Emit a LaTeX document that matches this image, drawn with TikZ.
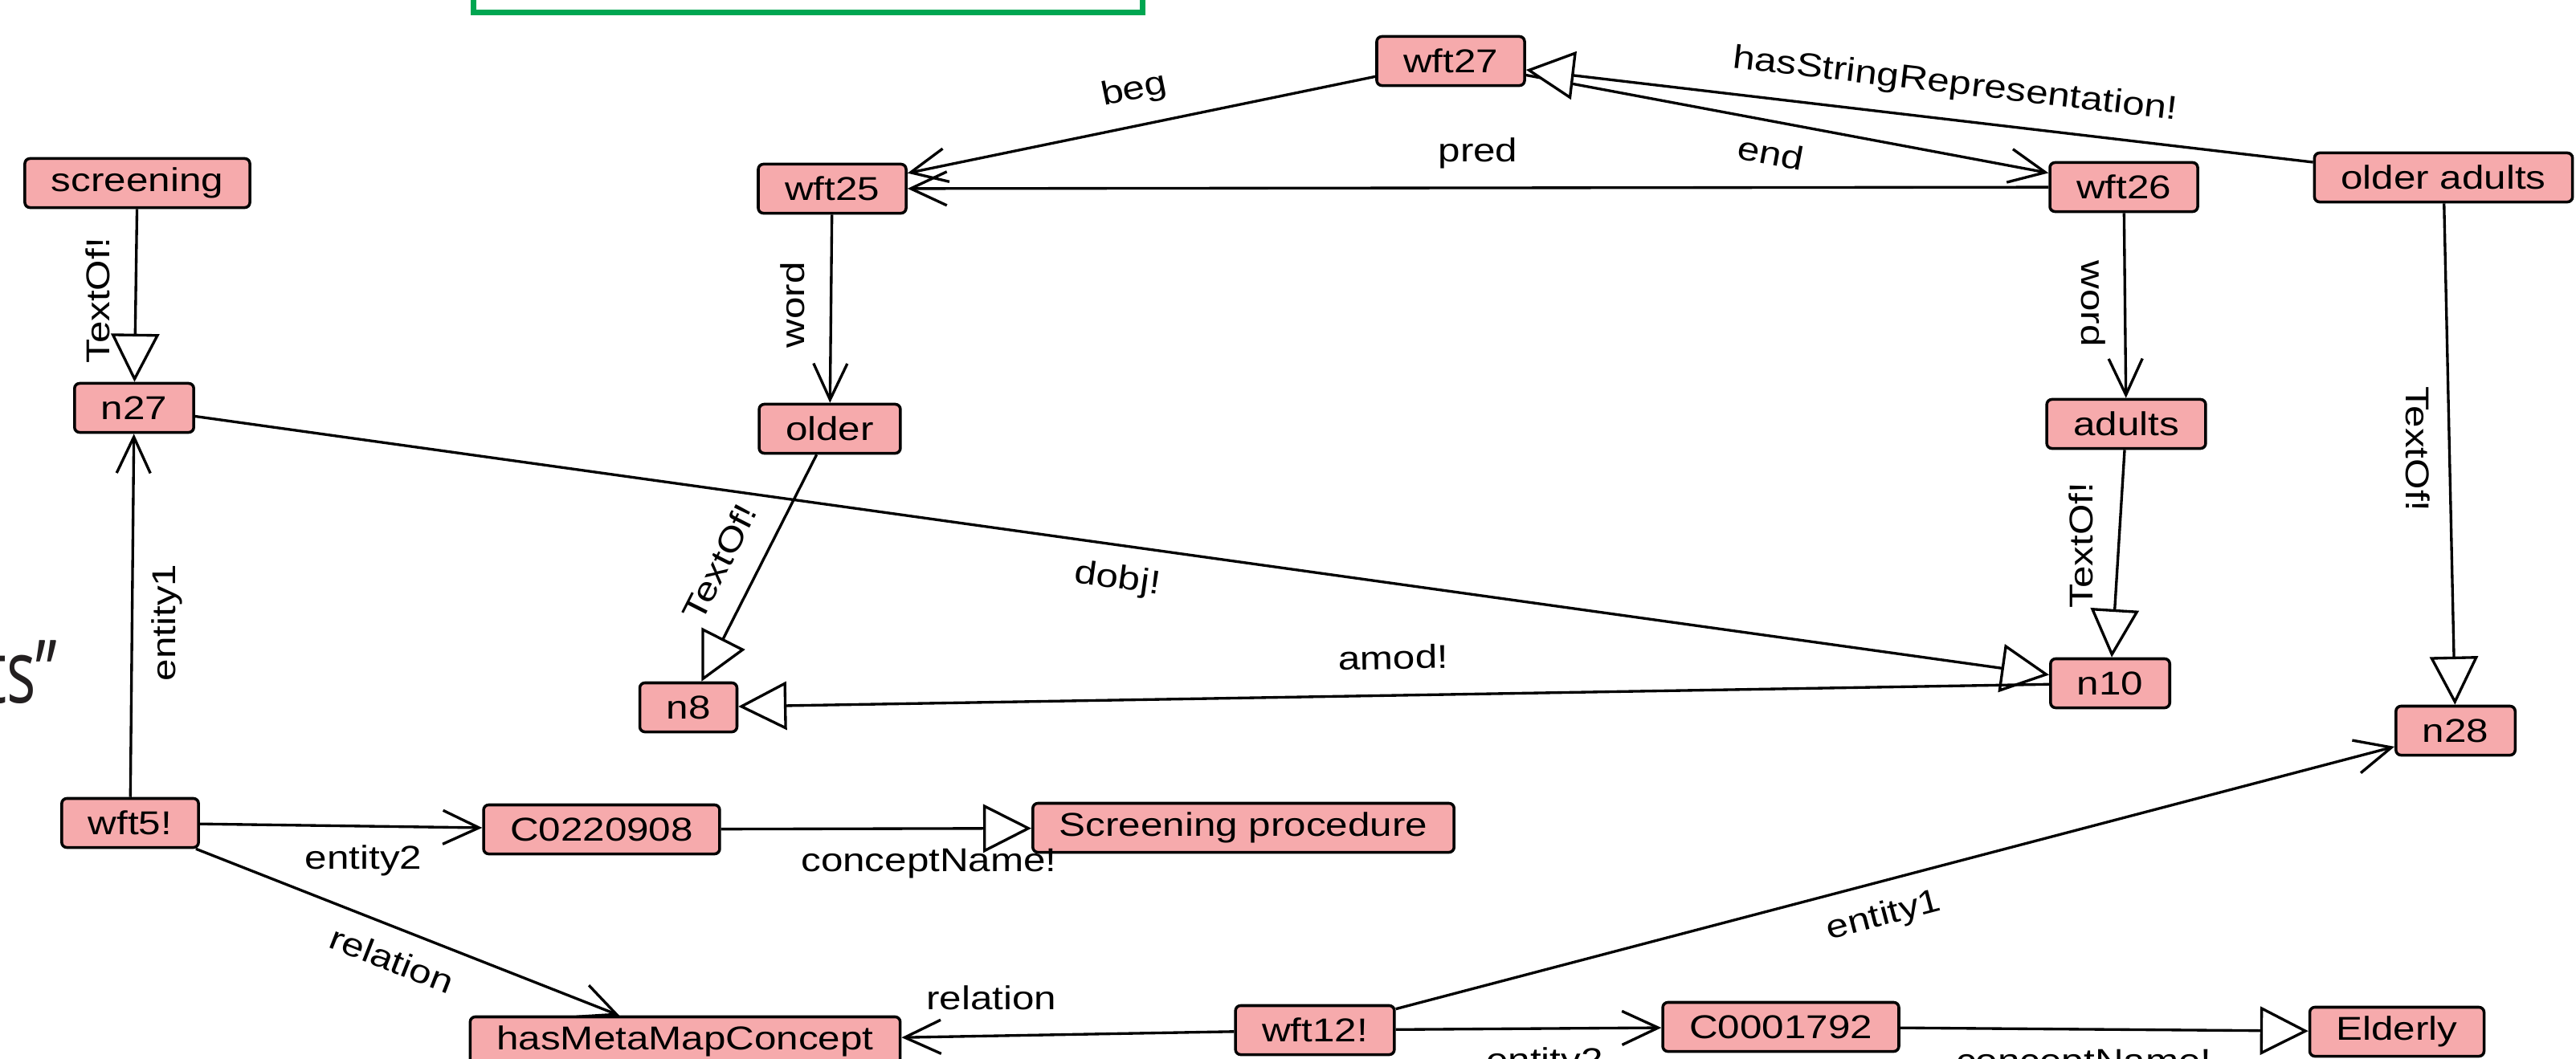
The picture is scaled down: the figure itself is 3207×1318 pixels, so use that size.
\documentclass[tikz,border=0pt]{standalone}
\usepackage{fontspec}
\setmainfont[FakeStretch=1.2]{Liberation Sans}
\newfontfamily\slidefont{Open Sans}
\usetikzlibrary{arrows.meta}
\definecolor{boxpink}{RGB}{246,170,172}
\definecolor{slidegreen}{RGB}{0,166,81}
\definecolor{slidegray}{RGB}{35,31,32}

\begin{document}
\begin{tikzpicture}[x=0.01cm, y=-0.01cm, font=\fontsize{11.7}{14}\selectfont,
	box/.style={draw, line width=1pt, fill=boxpink, rounded corners=1.8pt, minimum height=0.61cm, inner xsep=0.33cm, inner ysep=0pt},
	lbl/.style={inner sep=0.22cm, text height=0.3cm, text depth=0.09cm},
	arr/.style={line width=0.95pt, -{Straight Barb[length=0.45cm, width=0.42cm]}},
	tri/.style={line width=0.95pt, -{Triangle[length=0.6cm, width=0.6cm, fill=white]}}]

	\clip (0,0) rectangle (3207,1318);
	\draw [slidegreen, line width=0.07cm] (589,-40) rectangle (1422,15.5);
	\node [anchor=base east, inner sep=0pt, text=slidegray, font=\slidefont\fontsize{31}{36}\selectfont] (tail) at (72,875) {\scalebox{0.7}[1]{ts”}};

	\node [box] (wft27) at (1806,76) {wft27};
	\node [box] (wft25) at (1036,235) {wft25};
	\node [box] (wft26) at (2644,233) {wft26};
	\node [box] (olderadults) at (3042,221) {older adults};
	\node [box] (screening) at (171,228) {screening};
	\node [box] (n27) at (167,508) {n27};
	\node [box] (older) at (1033,534) {older};
	\node [box] (adults) at (2647,528) {adults};
	\node [box] (n8) at (857,881) {n8};
	\node [box] (n10) at (2627,851) {n10};
	\node [box] (n28) at (3057,910) {n28};
	\node [box] (wft5) at (162,1025) {wft5!};
	\node [box] (c0220908) at (749,1033) {C0220908};
	\node [box] (screenproc) at (1548,1031) {Screening procedure};
	\node [box] (hmmc) at (853,1297) {hasMetaMapConcept};
	\node [box] (wft12) at (1637,1283) {wft12!};
	\node [box] (c0001792) at (2217,1279) {C0001792};
	\node [box] (elderly) at (2984,1285) {Elderly};

	\draw [arr] (wft27) -- node [lbl, sloped, above, pos=0.5] {beg} (wft25);
	\draw [arr] (wft26) -- node [lbl, above, pos=0.5] {pred} (wft25);
	\draw [arr] (wft27) -- node [lbl, sloped, below, pos=0.48] {end} (wft26);
	\draw [tri] (olderadults) -- node [lbl, sloped, above, pos=0.46] {hasStringRepresentation!} (wft27);
	\draw [arr] (wft25) -- node [lbl, rotate=90, anchor=south, pos=0.48] {word} (older);
	\draw [arr] (wft26) -- node [lbl, rotate=-90, anchor=north, pos=0.49] {word} (adults);
	\draw [tri] (screening) -- node [lbl, rotate=90, anchor=south, pos=0.53] {TextOf!} (n27);
	\draw [tri] (older) -- node [lbl, sloped, above, pos=0.55] {TextOf!} (n8);
	\draw [tri] (adults) -- node [lbl, rotate=90, anchor=south, pos=0.46] {TextOf!} (n10);
	\draw [tri] (olderadults) -- node [lbl, rotate=-90, anchor=north, pos=0.49] {TextOf!} (n28);
	\draw [tri] (n27) -- node [lbl, sloped, below, pos=0.5] {dobj!} (n10);
	\draw [tri] (n10) -- node [lbl, sloped, above, pos=0.5] {amod!} (n8);
	\draw [arr] (wft5) -- node [lbl, rotate=90, anchor=north, pos=0.48] {entity1} (n27);
	\draw [arr] (wft5) -- node [lbl, below, pos=0.58] {entity2} (c0220908);
	\draw [tri] (c0220908) -- node [lbl, below, pos=0.67] {conceptName!} (screenproc);
	\draw [arr] (wft5) -- node [lbl, sloped, below, pos=0.49] {relation} (hmmc);
	\draw [arr] (wft12) -- node [lbl, above, pos=0.73] {relation} (hmmc);
	\draw [arr] (wft12) -- node [lbl, sloped, below, pos=0.48] {entity1} (n28);
	\draw [arr] (wft12) -- node [lbl, below, pos=0.56] {entity2} (c0001792);
	\draw [tri] (c0001792) -- node [lbl, below, pos=0.45] {conceptName!} (elderly);
\end{tikzpicture}
\end{document}
